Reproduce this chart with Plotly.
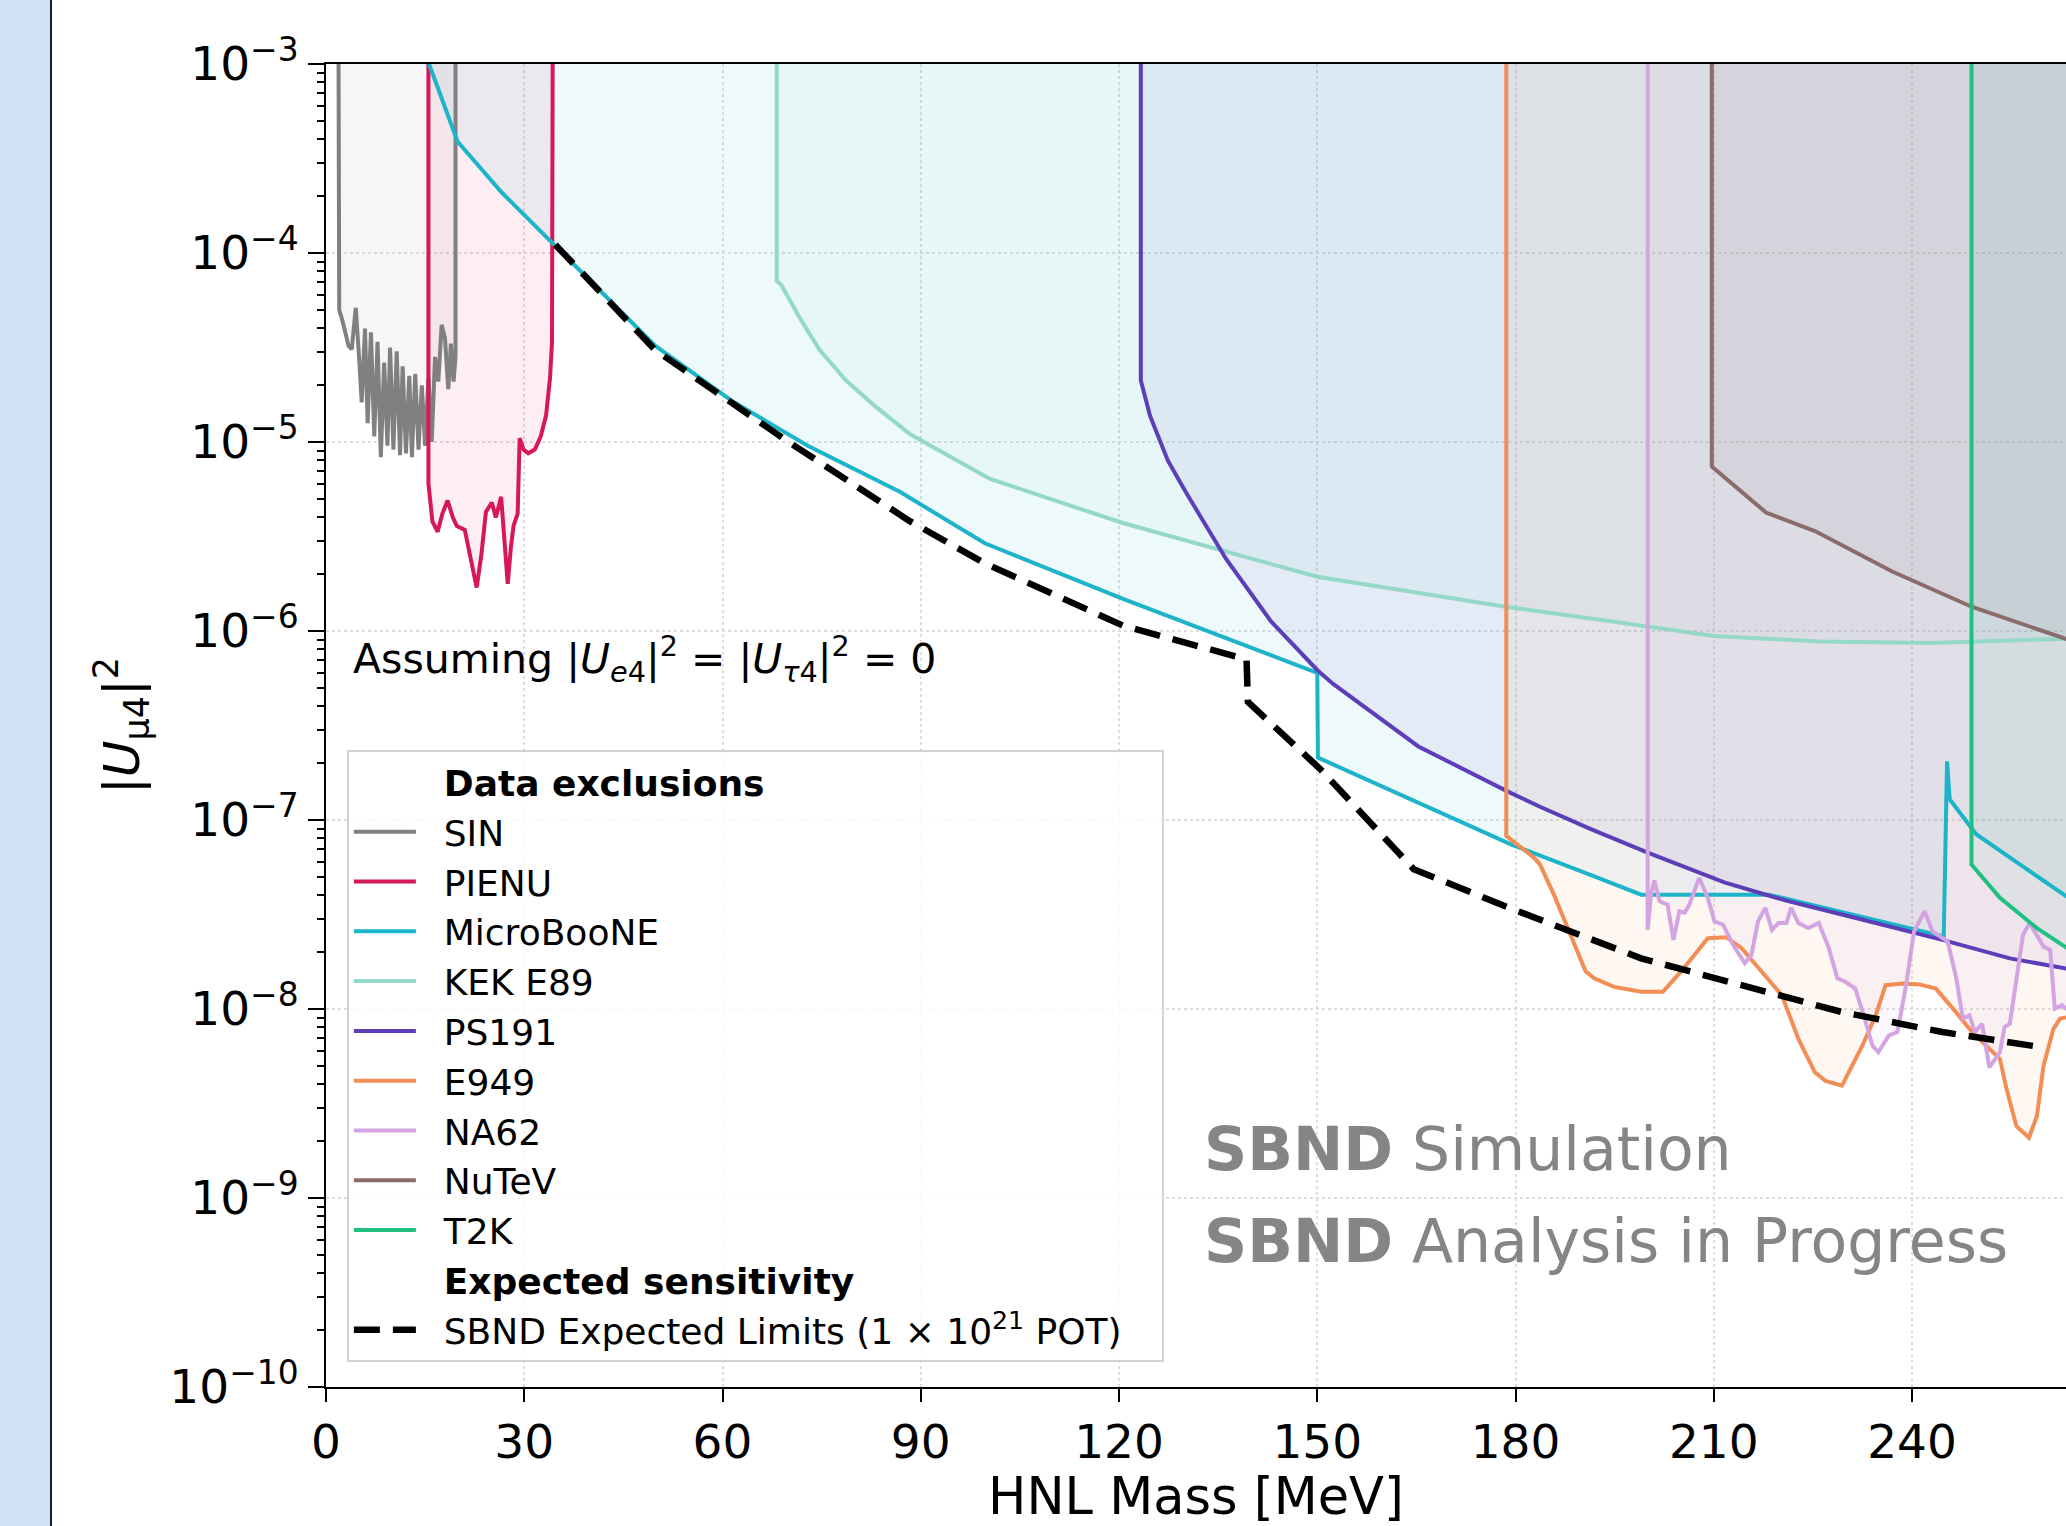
import plotly.graph_objects as go

# ---------------- data (HNL mass in MeV, log10 |U_mu4|^2) ----------------
TOP_LOG = -3.0

SIN_M = [1.9, 2.0, 2.5, 3.4, 3.9, 4.5, 5.0, 5.4, 5.9, 6.3, 6.8, 7.3, 7.8, 8.3, 8.8, 9.3, 9.7,
         10.2, 10.7, 11.2, 11.6, 12.1, 12.6, 13.0, 13.5, 14.0, 14.5, 15.0, 15.5, 16.0,
         16.5, 17.0, 17.5, 18.0, 18.5, 18.9, 19.3, 19.6, 19.6]
SIN_LOGU = [-3.0, -4.30, -4.36, -4.49, -4.51, -4.29, -4.55, -4.79, -4.40, -4.90, -4.42, -4.97,
            -4.47, -5.08, -4.58, -5.02, -4.50, -5.04, -4.52, -5.07, -4.60, -5.06, -4.65, -5.08,
            -4.64, -5.04, -4.70, -5.02, -4.66, -5.00, -4.55, -4.68, -4.38, -4.45, -4.72,
            -4.48, -4.68, -4.55, -3.0]

PIENU_M = [15.5, 15.5, 16.1, 16.9, 17.6, 18.4, 19.2, 19.8, 21.0, 21.8, 22.8, 23.5, 24.2, 25.1,
           25.7, 26.5, 27.0, 27.5, 28.0, 28.4, 29.0, 29.3, 29.9, 30.6, 31.6, 32.5, 33.3,
           33.9, 34.2, 34.3]
PIENU_LOGU = [-3.0, -5.22, -5.42, -5.475, -5.38, -5.31, -5.40, -5.445, -5.465, -5.60, -5.77,
              -5.60, -5.37, -5.32, -5.40, -5.29, -5.50, -5.75, -5.55, -5.44, -5.38, -4.98,
              -5.04, -5.06, -5.04, -4.97, -4.86, -4.66, -4.47, -3.0]

UBOONE_M = [15.6, 19.9, 26.6, 34.1, 49.8, 61.3, 72.9, 86.9, 99.7, 120.7, 150.0, 150.1, 179.4,
            192.8, 199.0, 218.3, 244.8, 245.3, 245.7, 249.7, 264.0]
UBOONE_LOGU = [-3.0, -3.41, -3.68, -3.94, -4.49, -4.78, -5.02, -5.265, -5.536, -5.831, -6.221,
               -6.67, -7.13, -7.31, -7.395, -7.395, -7.616, -6.69, -6.89, -7.075, -7.42]

KEK_M = [68.2, 68.2, 68.9, 71.8, 74.7, 78.7, 83.3, 88.4, 100.4, 120.7, 150.0, 178.7, 192.8,
         210.0, 226.0, 242.6, 264.0]
KEK_LOGU = [-3.0, -4.148, -4.17, -4.35, -4.513, -4.675, -4.817, -4.959, -5.194, -5.43, -5.713,
            -5.873, -5.94, -6.027, -6.055, -6.063, -6.04]

PS191_M = [123.3, 123.3, 124.7, 127.4, 130.1, 136.2, 143.0, 150.06, 152.4, 165.3, 178.7, 183.7,
           191.4, 200.0, 211.6, 220.8, 229.4, 244.6, 254.8, 264.0]
PS191_LOGU = [-3.0, -4.674, -4.862, -5.099, -5.265, -5.619, -5.949, -6.209, -6.28, -6.611,
              -6.847, -6.93, -7.048, -7.173, -7.33, -7.425, -7.50, -7.634, -7.732, -7.79]

E949_M = [178.6, 178.6, 182.8, 183.7, 185.8, 188.3, 190.6, 191.9, 194.9, 199.0, 202.3, 205.1,
          209.1, 211.9, 214.2, 217.2, 220.3, 222.8, 225.3, 226.9, 229.4, 232.5, 234.5, 236.0,
          238.5, 241.1, 243.6, 246.2, 248.7, 251.2, 253.3, 254.3, 255.8, 257.7, 258.9, 259.9,
          261.4, 262.4, 264.0]
E949_LOGU = [-3.0, -7.083, -7.20, -7.235, -7.395, -7.607, -7.80, -7.838, -7.883, -7.909, -7.909,
             -7.80, -7.625, -7.62, -7.678, -7.80, -7.927, -8.158, -8.335, -8.38, -8.406, -8.193,
             -8.034, -7.874, -7.865, -7.87, -7.892, -7.998, -8.105, -8.193, -8.264, -8.424,
             -8.62, -8.681, -8.566, -8.30, -8.105, -8.051, -8.04]

NA62_M = [200.0, 200.0, 200.5, 201.0, 201.8, 203.0, 203.9, 204.8, 205.6, 206.3, 207.8, 209.1,
          210.1, 211.4, 212.9, 214.7, 215.7, 216.7, 217.8, 218.8, 219.8, 221.0, 221.7, 222.8,
          224.3, 225.9, 227.4, 228.7, 229.9, 231.4, 232.7, 234.0, 234.9, 236.5, 237.8, 239.1,
          240.3, 241.9, 243.1, 245.4, 246.7, 247.7, 248.7, 249.5, 250.6, 251.7, 253.3, 254.0,
          254.8, 255.8, 256.8, 257.8, 258.9, 259.9, 260.9, 261.6, 262.7, 264.0]
NA62_LOGU = [-3.0, -7.581, -7.395, -7.32, -7.43, -7.448, -7.634, -7.483, -7.49, -7.448, -7.306,
             -7.412, -7.536, -7.554, -7.66, -7.758, -7.714, -7.536, -7.465, -7.581, -7.545,
             -7.545, -7.465, -7.545, -7.572, -7.545, -7.678, -7.838, -7.856, -7.892, -8.034,
             -8.193, -8.229, -8.14, -8.122, -7.874, -7.59, -7.483, -7.59, -7.643, -7.838,
             -8.051, -8.034, -8.122, -8.078, -8.309, -8.229, -8.096, -8.078, -7.856, -7.607,
             -7.545, -7.607, -7.67, -7.687, -7.998, -7.98, -8.02]

NUTEV_M = [209.7, 209.7, 217.9, 225.3, 237.0, 249.1, 264.0]
NUTEV_LOGU = [-3.0, -5.13, -5.373, -5.471, -5.685, -5.873, -6.05]

T2K_M = [249.0, 249.0, 253.3, 258.9, 264.0]
T2K_LOGU = [-3.0, -7.235, -7.412, -7.572, -7.69]

SBND_M = [34.7, 49.8, 70.0, 88.4, 99.7, 120.7, 139.3, 139.5, 150.4, 164.6, 179.4, 184.8,
          199.0, 214.2, 229.4, 244.6, 259.6]
SBND_LOGU = [-3.956, -4.513, -5.0, -5.42, -5.642, -5.973, -6.15, -6.375, -6.729, -7.26, -7.47,
             -7.54, -7.732, -7.874, -8.016, -8.122, -8.202]

EXCLUSIONS = ["SIN", "PIENU", "MicroBooNE", "KEK E89", "PS191", "E949", "NA62", "NuTeV", "T2K"]
EXCL_M = [SIN_M, PIENU_M, UBOONE_M, KEK_M, PS191_M, E949_M, NA62_M, NUTEV_M, T2K_M]
EXCL_LOGU = [SIN_LOGU, PIENU_LOGU, UBOONE_LOGU, KEK_LOGU, PS191_LOGU, E949_LOGU, NA62_LOGU,
             NUTEV_LOGU, T2K_LOGU]
COLORS = ["#808080", "#d6185a", "#1db3c8", "#94d8c8", "#5c3eb8", "#f38d56", "#d4a3e2",
          "#8b6c6c", "#1fc081"]

X_TICKS = [0, 30, 60, 90, 120, 150, 180, 210, 240]
Y_EXPS = [-10, -9, -8, -7, -6, -5, -4, -3]

FONT = "DejaVu Sans"
PAD = "\u00a0\u00a0"


def rgba(hexcol, a):
    h = hexcol.lstrip("#")
    r, g, b = int(h[0:2], 16), int(h[2:4], 16), int(h[4:6], 16)
    return f"rgba({r},{g},{b},{a})"


fig = go.Figure()

# filled exclusion regions (up to the top of the axis)
for name, xs, ls, col in zip(EXCLUSIONS, EXCL_M, EXCL_LOGU, COLORS):
    ys = [10 ** v for v in ls]
    fx = xs + [xs[-1], xs[0]]
    fy = ys + [10 ** TOP_LOG, 10 ** TOP_LOG]
    fig.add_trace(go.Scatter(x=fx, y=fy, mode="lines", fill="toself",
                             fillcolor=rgba(col, 0.075), line=dict(width=0, color=rgba(col, 0)),
                             showlegend=False, hoverinfo="skip"))

# legend header
fig.add_trace(go.Scatter(x=[None], y=[None], mode="lines",
                         line=dict(color="rgba(0,0,0,0)", width=0),
                         name=PAD + "<b>Data exclusions</b>"))

for name, xs, ls, col in zip(EXCLUSIONS, EXCL_M, EXCL_LOGU, COLORS):
    ys = [10 ** v for v in ls]
    fig.add_trace(go.Scatter(x=xs, y=ys, mode="lines", name=PAD + name,
                             line=dict(color=col, width=4)))

fig.add_trace(go.Scatter(x=[None], y=[None], mode="lines",
                         line=dict(color="rgba(0,0,0,0)", width=0),
                         name=PAD + "<b>Expected sensitivity</b>"))
fig.add_trace(go.Scatter(x=SBND_M, y=[10 ** v for v in SBND_LOGU], mode="lines",
                         name=PAD + "SBND Expected Limits (1 × 10<sup>21</sup> POT)\u00a0\u00a0\u00a0",
                         line=dict(color="black", width=6.5, dash="26px,13px")))

minor_vals = [k * 10.0 ** e for e in Y_EXPS[:-1] for k in range(2, 10)]

fig.update_layout(
    width=2066, height=1526,
    margin=dict(l=326, r=0, t=64, b=139, pad=0),
    paper_bgcolor="white", plot_bgcolor="white",
    font=dict(family=FONT, color="black", size=36),
    legend=dict(x=0.012, y=0.4815, xanchor="left", yanchor="top",
                bgcolor="rgba(255,255,255,0.8)", bordercolor="#d2d2d2", borderwidth=2,
                font=dict(family=FONT, size=36, color="black"),
                itemwidth=62, traceorder="normal", tracegroupgap=0),
    xaxis=dict(range=[0, 263.3], tickmode="array", tickvals=X_TICKS,
               ticktext=[str(t) for t in X_TICKS],
               ticks="outside", ticklen=13, tickwidth=2, tickcolor="black",
               showline=True, linecolor="black", linewidth=2, mirror=True,
               showgrid=True, gridcolor="#dedede", griddash="dot", gridwidth=1.5,
               zeroline=False, tickfont=dict(family=FONT, size=47, color="black"),
               title=dict(text="HNL Mass [MeV]", font=dict(family=FONT, size=51, color="black"),
                          standoff=4)),
    yaxis=dict(type="log", range=[-10, -3], tickmode="array",
               tickvals=[10.0 ** e for e in Y_EXPS],
               ticktext=[f"10<sup>−{-e}</sup>" for e in Y_EXPS],
               ticks="outside", ticklen=16, tickwidth=2, tickcolor="black",
               minor=dict(tickmode="array", tickvals=minor_vals, ticks="outside", ticklen=7,
                          tickwidth=1.5, tickcolor="black", showgrid=False),
               showline=True, linecolor="black", linewidth=2, mirror=False,
               showgrid=True, gridcolor="#dedede", griddash="dot", gridwidth=1.5,
               zeroline=False, tickfont=dict(family=FONT, size=47, color="black"),
               title=dict(text="|<i>U</i><sub>μ4</sub>|<sup>2</sup>",
                          font=dict(family=FONT, size=50, color="black"), standoff=14)),
    shapes=[
        dict(type="rect", xref="paper", yref="paper", x0=-326 / 1740, x1=-276 / 1740,
             y0=-0.2, y1=1.1, fillcolor="#cfe2f3", line=dict(width=0), layer="below"),
        dict(type="rect", xref="paper", yref="paper", x0=-276 / 1740, x1=-274 / 1740,
             y0=-0.2, y1=1.1, fillcolor="#1e1e1e", line=dict(width=0), layer="below"),
    ],
    annotations=[
        dict(xref="paper", yref="paper", x=0.0141, y=0.5503, xanchor="left", yanchor="middle",
             showarrow=False, font=dict(family=FONT, size=41, color="black"),
             text="Assuming |<i>U</i><sub><i>e</i>4</sub>|<sup>2</sup> = "
                  "|<i>U</i><sub><i>τ</i>4</sub>|<sup>2</sup> = 0"),
        dict(xref="paper", yref="paper", x=0.5033, y=0.1799, xanchor="left", yanchor="middle",
             showarrow=False, font=dict(family=FONT, size=60, color="#858585"),
             text="<b>SBND</b> Simulation"),
        dict(xref="paper", yref="paper", x=0.5033, y=0.1104, xanchor="left", yanchor="middle",
             showarrow=False, font=dict(family=FONT, size=60, color="#858585"),
             text="<b>SBND</b> Analysis in Progress"),
    ],
)

fig.write_html("out.html")
